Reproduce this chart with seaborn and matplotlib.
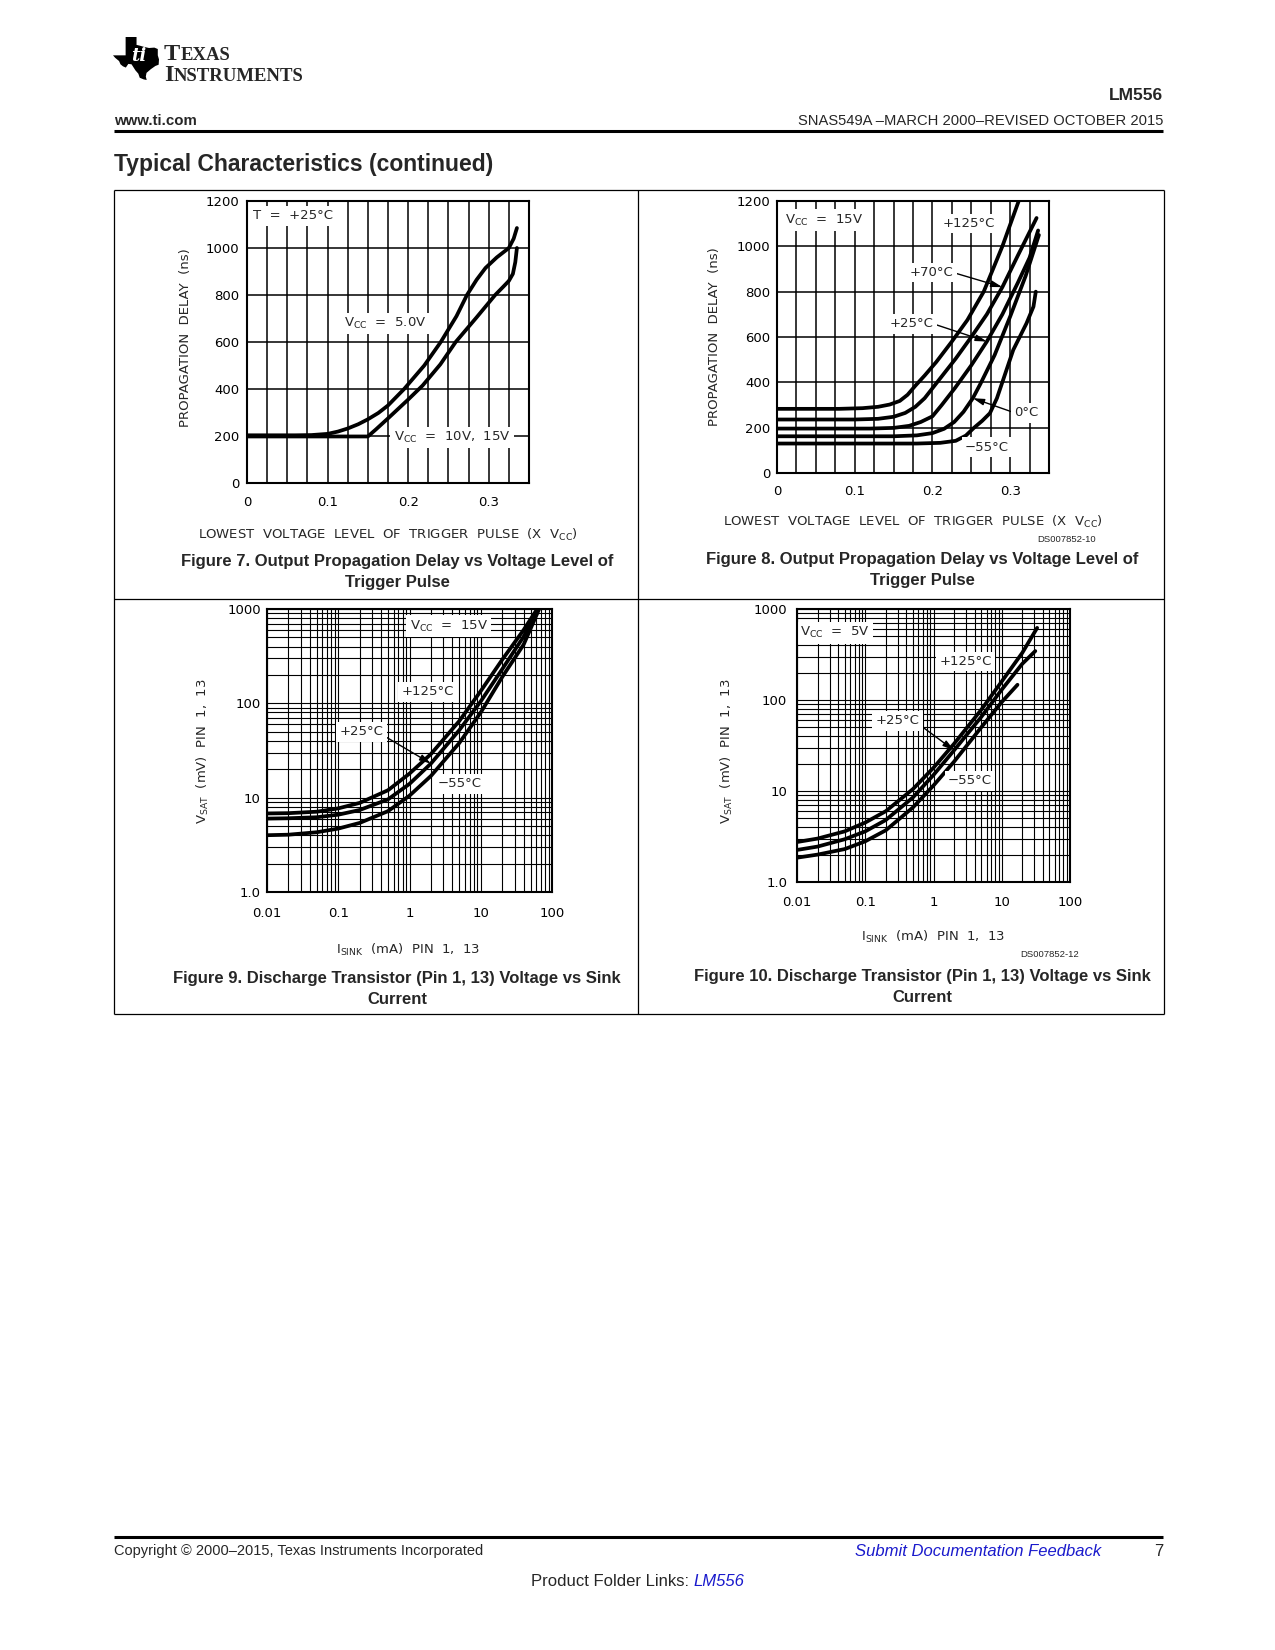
import numpy as np
import pandas as pd
import matplotlib
matplotlib.use("Agg")
import matplotlib.pyplot as plt
import seaborn as sns
from matplotlib.patches import Polygon
from matplotlib.lines import Line2D
from matplotlib.ticker import MultipleLocator, LogLocator, NullFormatter

# ---------------- values ----------------
# Figure 7: propagation delay vs trigger level (T = +25C)
f7_x_5v = [0, 0.06, 0.08, 0.10, 0.113, 0.125, 0.138, 0.15, 0.163, 0.175, 0.195,
           0.22, 0.2405, 0.26, 0.273, 0.285, 0.296, 0.31, 0.325, 0.331, 0.335]
f7_y_5v = [203, 203, 204, 209, 219, 232, 250, 271, 298, 330, 400,
           500, 600, 710, 800, 865, 915, 960, 1000, 1040, 1085]
f7_x_10v = [0, 0.15, 0.16, 0.175, 0.20, 0.218, 0.24, 0.259, 0.285, 0.308,
            0.318, 0.325, 0.33, 0.333, 0.335]
f7_y_10v = [198, 198, 228, 275, 355, 415, 505, 600, 705, 800,
            835, 860, 890, 940, 1000]

# Figure 8: propagation delay vs trigger level (VCC = 15V)
f8_x_125 = [0, 0.08, 0.11, 0.13, 0.145, 0.158, 0.168, 0.178, 0.19, 0.205, 0.225, 0.245, 0.266, 0.29, 0.311]
f8_y_125 = [283, 283, 286, 292, 302, 318, 345, 385, 430, 490, 580, 675, 800, 1000, 1200]
f8_x_70 = [0, 0.10, 0.13, 0.15, 0.165, 0.178, 0.19, 0.206, 0.23, 0.25, 0.27, 0.29, 0.31, 0.334]
f8_y_70 = [236, 236, 239, 248, 265, 292, 330, 400, 505, 600, 700, 820, 960, 1125]
f8_x_25 = [0, 0.12, 0.15, 0.17, 0.185, 0.20, 0.212, 0.229, 0.25, 0.27, 0.29, 0.31, 0.325, 0.336]
f8_y_25 = [196, 196, 199, 208, 225, 250, 300, 375, 475, 580, 700, 840, 950, 1070]
f8_x_0 = [0, 0.15, 0.18, 0.20, 0.215, 0.228, 0.24, 0.252, 0.262, 0.28, 0.30, 0.32, 0.337]
f8_y_0 = [162, 162, 166, 176, 195, 225, 270, 330, 395, 520, 690, 870, 1050]
f8_x_m55 = [0, 0.18, 0.21, 0.23, 0.243, 0.253, 0.264, 0.274, 0.283, 0.291, 0.304, 0.321, 0.330, 0.333]
f8_y_m55 = [130, 130, 133, 142, 165, 198, 230, 264, 330, 411, 543, 660, 734, 800]

lin_xticks = [0, 0.1, 0.2, 0.3]
lin_xticklabels = ["0", "0.1", "0.2", "0.3"]
lin_yticks = [0, 200, 400, 600, 800, 1000, 1200]

# Figure 9: VSAT vs ISINK (VCC = 15V)
f9_i_125 = [0.01, 0.02, 0.05, 0.1, 0.2, 0.5, 1, 2, 5, 10, 20, 40, 62]
f9_v_125 = [6.8, 6.85, 7.1, 7.7, 8.8, 12.0, 18, 29, 65, 135, 290, 600, 1000]
f9_i_25 = [0.01, 0.02, 0.05, 0.1, 0.2, 0.5, 1, 2, 5, 10, 20, 40, 64]
f9_v_25 = [6.0, 6.05, 6.2, 6.6, 7.4, 9.6, 14, 23, 52, 105, 230, 510, 1000]
f9_i_m55 = [0.01, 0.02, 0.05, 0.1, 0.2, 0.5, 1, 2, 5, 10, 20, 40, 66]
f9_v_m55 = [4.0, 4.05, 4.3, 4.7, 5.4, 7.2, 10.5, 17, 38, 80, 190, 420, 1000]

# Figure 10: VSAT vs ISINK (VCC = 5V)
f10_i_125 = [0.01, 0.02, 0.05, 0.1, 0.2, 0.5, 1, 2, 5, 10, 20, 33]
f10_v_125 = [2.75, 3.0, 3.6, 4.5, 6.0, 10.5, 18, 33, 78, 160, 330, 620]
f10_i_25 = [0.01, 0.02, 0.05, 0.1, 0.2, 0.5, 1, 2, 5, 10, 20, 31]
f10_v_25 = [2.25, 2.45, 2.95, 3.6, 4.8, 8.5, 15, 28, 65, 130, 250, 345]
f10_i_m55 = [0.01, 0.02, 0.05, 0.1, 0.2, 0.5, 1, 2, 5, 10, 17]
f10_v_m55 = [1.85, 2.0, 2.3, 2.8, 3.7, 6.6, 11.5, 21, 50, 95, 147]

log_xticks = [0.01, 0.1, 1, 10, 100]
log_xticklabels = ["0.01", "0.1", "1", "10", "100"]
log_yticks = [1, 10, 100, 1000]
log_yticklabels = ["1.0", "10", "100", "1000"]

# rough outline of the logo mark (lon / lat of Texas)
logo_lon = [-103.06, -100.0, -100.0, -99.2, -98.0, -96.5, -95.0, -94.04, -94.04, -93.7,
            -93.8, -94.7, -96.0, -97.2, -97.4, -97.15, -98.0, -99.1, -99.5, -100.3,
            -101.4, -102.3, -103.0, -103.8, -104.5, -104.9, -106.0, -106.6, -103.06]
logo_lat = [36.5, 36.5, 34.56, 34.4, 34.1, 33.8, 33.9, 33.55, 32.0, 31.0,
            29.7, 29.4, 28.6, 27.7, 26.8, 25.95, 26.1, 26.5, 27.5, 28.3,
            29.8, 29.9, 29.0, 29.3, 29.8, 30.6, 31.4, 32.0, 32.0]

# ---------------- page setup ----------------
sns.set_theme(style="white")
plt.rcParams["font.family"] = ["DejaVu Sans"]
plt.rcParams["mathtext.default"] = "regular"

W, H = 1275, 1650
fig = plt.figure(figsize=(W / 100, H / 100), dpi=100)
fig.patch.set_facecolor("white")

CHART_FS = 9.5
CAP_FONT = ["Liberation Sans", "DejaVu Sans"]
LINK = "#1a1acc"
BOX = dict(boxstyle="square,pad=0.25", fc="white", ec="none")


def fx(x):
    return x / W


def fy(y):
    return 1 - y / H


def page_line(x0, y0, x1, y1, lw):
    fig.add_artist(Line2D([fx(x0), fx(x1)], [fy(y0), fy(y1)], color="black",
                          lw=lw, transform=fig.transFigure, solid_capstyle="butt"))


def px_axes(x0, y0, x1, y1):
    return fig.add_axes([fx(x0), fy(y1), (x1 - x0) / W, (y1 - y0) / H])


def draw_curve(ax, xs, ys):
    sns.lineplot(x=xs, y=ys, ax=ax, color="black", linewidth=2.7,
                 sort=False, estimator=None, zorder=3)


def style_axes(ax, xpad, ypad):
    for sp in ax.spines.values():
        sp.set_color("black")
        sp.set_linewidth(1.5)
        sp.set_zorder(5)
    ax.set_axisbelow(True)
    ax.tick_params(which="both", length=0, labelsize=CHART_FS, colors="black")
    ax.tick_params(axis="x", pad=xpad)
    ax.tick_params(axis="y", pad=ypad)
    ax.set_xlabel("")
    ax.set_ylabel("")


def setup_linear(ax):
    ax.set_xlim(0, 0.35)
    ax.set_ylim(0, 1200)
    ax.set_xticks(lin_xticks)
    ax.set_xticklabels(lin_xticklabels)
    ax.set_yticks(lin_yticks)
    ax.set_yticklabels([str(v) for v in lin_yticks])
    ax.xaxis.set_minor_locator(MultipleLocator(0.025))
    ax.grid(which="both", axis="x", color="black", lw=1.1)
    ax.grid(which="major", axis="y", color="black", lw=1.1)


def setup_log(ax):
    ax.set_xscale("log")
    ax.set_yscale("log")
    ax.set_xlim(0.01, 100)
    ax.set_ylim(1, 1000)
    ax.set_xticks(log_xticks)
    ax.set_xticklabels(log_xticklabels)
    ax.set_yticks(log_yticks)
    ax.set_yticklabels(log_yticklabels)
    ax.xaxis.set_minor_locator(LogLocator(base=10, subs=np.arange(2, 10)))
    ax.yaxis.set_minor_locator(LogLocator(base=10, subs=np.arange(2, 10)))
    ax.xaxis.set_minor_formatter(NullFormatter())
    ax.yaxis.set_minor_formatter(NullFormatter())
    ax.grid(which="both", color="black", lw=0.8)


def label(ax, x, y, s, ha="left"):
    ax.text(x, y, s, ha=ha, va="center", fontsize=CHART_FS, bbox=BOX, zorder=4)


def arrow_label(ax, s, tip, pos, relpos, ha="left"):
    ax.annotate(s, xy=tip, xytext=pos, ha=ha, va="center", fontsize=CHART_FS,
                bbox=BOX, zorder=4,
                arrowprops=dict(arrowstyle="-|>,head_length=0.7,head_width=0.2",
                                color="black", lw=1.0, relpos=relpos,
                                shrinkA=0, shrinkB=0))


# ---------------- header ----------------
renderer = fig.canvas.get_renderer()

lon = np.array(logo_lon)
lat = np.array(logo_lat)
nx = (lon - lon.min()) / (lon.max() - lon.min())
ny = (lat - lat.min()) / (lat.max() - lat.min())
logo = [(fx(113 + a * 46), fy(80 - b * 43)) for a, b in zip(nx, ny)]
fig.add_artist(Polygon(logo, closed=True, fc="black", ec="none",
                       transform=fig.transFigure))
fig.text(fx(139), fy(56), "ti", color="white", fontsize=13, fontweight="bold",
         style="italic", ha="center", va="center", family=["DejaVu Serif"])


def small_caps(x, y, word):
    t = fig.text(fx(x), fy(y), word[0], fontsize=17.5, fontweight="bold",
                 family=["Liberation Serif"], ha="left", va="baseline")
    bb = t.get_window_extent(renderer)
    fig.text(bb.x1 / W, fy(y), word[1:], fontsize=13.5, fontweight="bold",
             family=["Liberation Serif"], ha="left", va="baseline")


small_caps(164, 60, "TEXAS")
small_caps(164, 81, "INSTRUMENTS")

fig.text(fx(1163), fy(95), "LM556", fontsize=12.5, fontweight="bold", family=CAP_FONT,
         ha="right", va="center")
fig.text(fx(114), fy(121), "www.ti.com", fontsize=10.8, fontweight="bold", family=CAP_FONT,
         ha="left", va="center")
fig.text(fx(1163), fy(121), "SNAS549A \u2013MARCH 2000\u2013REVISED OCTOBER 2015",
         fontsize=10.6, family=CAP_FONT, ha="right", va="center")
page_line(114, 131, 1163, 131, 2.2)
fig.text(fx(114), fy(165), "Typical Characteristics (continued)", fontsize=16.5,
         fontweight="bold", family=CAP_FONT, ha="left", va="center")

# panel frame
page_line(114, 189.5, 1164, 189.5, 0.9)
page_line(114, 1014, 1164, 1014, 0.9)
page_line(114, 189.5, 114, 1014, 0.9)
page_line(1164, 189.5, 1164, 1014, 0.9)
page_line(638, 189.5, 638, 1014, 0.9)
page_line(114, 598.5, 1164, 598.5, 0.9)

# ---------------- Figure 7 ----------------
ax7 = px_axes(247, 201, 529, 483)
setup_linear(ax7)
draw_curve(ax7, f7_x_10v, f7_y_10v)
draw_curve(ax7, f7_x_5v, f7_y_5v)
style_axes(ax7, 9.5, 5.5)
label(ax7, 0.008, 1137, "T  =  +25\u00b0C")
label(ax7, 0.121, 679, r"V$_{CC}$  =  5.0V")
label(ax7, 0.182, 193, r"V$_{CC}$  =  10V,  15V")

# ---------------- Figure 8 ----------------
ax8 = px_axes(777, 201, 1049, 473)
setup_linear(ax8)
draw_curve(ax8, f8_x_125, f8_y_125)
draw_curve(ax8, f8_x_70, f8_y_70)
draw_curve(ax8, f8_x_25, f8_y_25)
draw_curve(ax8, f8_x_0, f8_y_0)
draw_curve(ax8, f8_x_m55, f8_y_m55)
style_axes(ax8, 8.5, 5.0)
label(ax8, 0.010, 1116, r"V$_{CC}$  =  15V")
label(ax8, 0.247, 1100, "+125\u00b0C", ha="center")
arrow_label(ax8, "+70\u00b0C", (f8_x_70[11], f8_y_70[11]), (0.199, 884), (1.0, 0.5), ha="center")
arrow_label(ax8, "+25\u00b0C", (f8_x_25[9], f8_y_25[9]), (0.173, 658), (1.0, 0.5), ha="center")
arrow_label(ax8, "0\u00b0C", (f8_x_0[7], f8_y_0[7]), (0.321, 266), (0.0, 0.5), ha="center")
label(ax8, 0.270, 114, "\u221255\u00b0C", ha="center")

# ---------------- Figure 9 ----------------
ax9 = px_axes(267, 609, 552, 892)
setup_log(ax9)
draw_curve(ax9, f9_i_125, f9_v_125)
draw_curve(ax9, f9_i_25, f9_v_25)
draw_curve(ax9, f9_i_m55, f9_v_m55)
style_axes(ax9, 10.5, 4.5)
label(ax9, 1.0, 655, r"V$_{CC}$  =  15V")
label(ax9, 0.77, 132, "+125\u00b0C")
arrow_label(ax9, "+25\u00b0C", (f9_i_25[7], f9_v_25[7]), (0.105, 50), (1.0, 0.2))
label(ax9, 2.5, 14, "\u221255\u00b0C")

# ---------------- Figure 10 ----------------
ax10 = px_axes(797, 609, 1070, 882)
setup_log(ax10)
draw_curve(ax10, f10_i_125, f10_v_125)
draw_curve(ax10, f10_i_25, f10_v_25)
draw_curve(ax10, f10_i_m55, f10_v_m55)
style_axes(ax10, 10.0, 7.0)
label(ax10, 0.011, 548, r"V$_{CC}$  =  5V")
label(ax10, 1.23, 265, "+125\u00b0C")
arrow_label(ax10, "+25\u00b0C", (f10_i_25[7], f10_v_25[7]), (0.142, 59), (1.0, 0.2))
label(ax10, 1.63, 12.9, "\u221255\u00b0C")

# ---------------- axis titles and captions ----------------
def chart_text(x, y, s, rot=0):
    fig.text(fx(x), fy(y), s, fontsize=CHART_FS, rotation=rot, ha="center", va="center")


def caption(x, y, lines):
    for k, s in enumerate(lines):
        fig.text(fx(x), fy(y + 21 * k), s, fontsize=12, fontweight="bold",
                 family=CAP_FONT, ha="center", va="center")


chart_text(186, 338, "PROPAGATION  DELAY  (ns)", rot=90)
chart_text(388, 535, r"LOWEST  VOLTAGE  LEVEL  OF  TRIGGER  PULSE  (X  V$_{CC}$)")
caption(397, 561, ["Figure 7. Output Propagation Delay vs Voltage Level of", "Trigger Pulse"])

chart_text(714, 337, "PROPAGATION  DELAY  (ns)", rot=90)
chart_text(913, 522, r"LOWEST  VOLTAGE  LEVEL  OF  TRIGGER  PULSE  (X  V$_{CC}$)")
fig.text(fx(1067), fy(540), "DS007852-10", fontsize=6.8, family=CAP_FONT,
         ha="center", va="center")
caption(922, 559, ["Figure 8. Output Propagation Delay vs Voltage Level of", "Trigger Pulse"])

chart_text(203, 751, r"V$_{SAT}$  (mV)  PIN  1,  13", rot=90)
chart_text(408, 950, r"I$_{SINK}$  (mA)  PIN  1,  13")
caption(397, 978, ["Figure 9. Discharge Transistor (Pin 1, 13) Voltage vs Sink", "Current"])

chart_text(727, 751, r"V$_{SAT}$  (mV)  PIN  1,  13", rot=90)
chart_text(933, 937, r"I$_{SINK}$  (mA)  PIN  1,  13")
fig.text(fx(1050), fy(955), "DS007852-12", fontsize=6.8, family=CAP_FONT,
         ha="center", va="center")
caption(922, 976, ["Figure 10. Discharge Transistor (Pin 1, 13) Voltage vs Sink", "Current"])

# ---------------- footer ----------------
page_line(114, 1537, 1163, 1537, 2.2)
fig.text(fx(114), fy(1551), "Copyright \u00a9 2000\u20132015, Texas Instruments Incorporated",
         fontsize=10.5, family=CAP_FONT, ha="left", va="center")
fig.text(fx(1101), fy(1551), "Submit Documentation Feedback", fontsize=12,
         style="italic", color=LINK, family=CAP_FONT, ha="right", va="center")
fig.text(fx(1159), fy(1551), "7", fontsize=12, family=CAP_FONT, ha="center", va="center")

t_a = fig.text(0, fy(1582), "Product Folder Links: ", fontsize=12, family=CAP_FONT,
               ha="left", va="center")
t_b = fig.text(0, fy(1582), "LM556", fontsize=12, style="italic", color=LINK,
               family=CAP_FONT, ha="left", va="center")
wa = t_a.get_window_extent(renderer).width
wb = t_b.get_window_extent(renderer).width
start = 638 - (wa + wb) / 2
t_a.set_x(fx(start))
t_b.set_x(fx(start + wa))

fig.savefig("out.png", dpi=100, facecolor="white")
